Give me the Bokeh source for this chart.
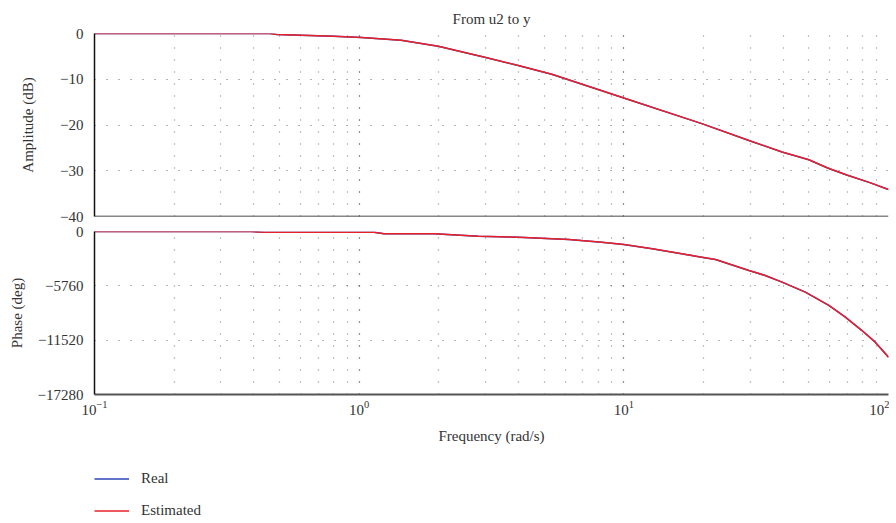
from bokeh.plotting import figure
from bokeh.models import Range1d, FixedTicker, Legend, LegendItem, Span
from bokeh.layouts import column
from bokeh.embed import file_html
from bokeh.resources import INLINE

# ---- data ----
freq_amp = [0.1, 0.46, 0.49, 0.8, 1.02, 1.44, 1.99, 2.98, 3.99, 5.34, 8.26, 10, 19.7, 29.7, 39.6, 50, 59.5, 70, 85, 100]
amp_real = [0, 0, -0.2, -0.6, -0.9, -1.5, -2.8, -5.2, -7.0, -8.9, -12.5, -14.1, -19.7, -23.4, -25.9, -27.6, -29.5, -31.0, -32.6, -34.1]
amp_est = [0, 0, -0.2, -0.6, -0.9, -1.5, -2.8, -5.2, -7.0, -8.9, -12.5, -14.1, -19.7, -23.4, -25.9, -27.6, -29.5, -31.0, -32.6, -34.1]

freq_ph = [0.1, 0.39, 0.44, 1.14, 1.24, 1.92, 2.82, 4.0, 6.2, 8.25, 10, 12.8, 19.7, 22.2, 29.7, 34.2, 39.6, 48.5, 59.5, 68.7, 79.4, 89.1, 100]
ph_real = [0, 0, -70, -70, -250, -250, -500, -600, -850, -1130, -1380, -1840, -2720, -2970, -4130, -4660, -5370, -6430, -7840, -9080, -10500, -11730, -13320]
ph_est = [0, 0, -70, -70, -250, -250, -500, -600, -850, -1130, -1380, -1840, -2720, -2970, -4130, -4660, -5370, -6430, -7840, -9080, -10500, -11730, -13320]

amp_ticks = [0, -10, -20, -30, -40]
ph_ticks = [0, -5760, -11520, -17280]
x_ticks = [0.1, 1, 10, 100]
x_minor = [m * 10 ** e for e in (-1, 0, 1) for m in range(2, 10)]

FONT = "Liberation Serif"
TXT = "#333333"
BLUE = "#2e45b8"
RED = "#e8202a"
W = 889
LB = 94


def style(p):
    p.outline_line_color = None
    p.background_fill_color = "white"
    p.xgrid.grid_line_color = "#222222"
    p.xgrid.grid_line_dash = "1 11"
    p.xgrid.grid_line_width = 1.2
    p.xgrid.minor_grid_line_color = "#888888"
    p.xgrid.minor_grid_line_dash = "1 11"
    p.xgrid.minor_grid_line_width = 1.2
    p.ygrid.grid_line_color = "#666666"
    p.ygrid.grid_line_dash = "1 11"
    p.ygrid.grid_line_width = 1.2
    for ax in (p.xaxis[0], p.yaxis[0]):
        ax.major_tick_line_color = None
        ax.minor_tick_line_color = None
        ax.major_label_text_font = FONT
        ax.major_label_text_font_size = "15px"
        ax.major_label_text_color = TXT
        ax.axis_label_text_font = FONT
        ax.axis_label_text_font_size = "15px"
        ax.axis_label_text_font_style = "normal"
        ax.axis_label_text_color = TXT
    p.yaxis.axis_line_color = "#111111"
    p.yaxis.axis_line_width = 1.5
    p.xaxis.axis_line_color = "#555555"
    p.xaxis.axis_line_width = 2
    p.xaxis.ticker = FixedTicker(ticks=x_ticks, minor_ticks=x_minor)


p1 = figure(width=W, height=223, x_axis_type="log", output_backend="svg", toolbar_location=None,
            x_range=Range1d(0.1, 100), y_range=Range1d(-40, 0),
            min_border_left=LB, min_border_right=1, min_border_top=33, min_border_bottom=7)
style(p1)
p1.title.text = "From u2 to y"
p1.title.align = "center"
p1.title.standoff = 14
p1.title.text_font = FONT
p1.title.text_font_size = "15px"
p1.title.text_font_style = "normal"
p1.title.text_color = TXT
p1.yaxis.ticker = FixedTicker(ticks=amp_ticks)
p1.yaxis.axis_label = "Amplitude (dB)"
p1.yaxis.axis_label_standoff = 21
p1.xaxis.visible = False
p1.add_layout(Span(location=-40, dimension="width", line_color="#111111", line_width=1.5))
p1.line(freq_amp, amp_real, line_color=BLUE, line_width=1.5)
p1.line(freq_amp, amp_est, line_color=RED, line_width=1.5)

p2 = figure(width=W, height=235, x_axis_type="log", output_backend="svg", toolbar_location=None,
            x_range=p1.x_range, y_range=Range1d(-17280, 0),
            min_border_left=LB, min_border_right=1, min_border_top=8, min_border_bottom=64)
style(p2)
p2.yaxis.ticker = FixedTicker(ticks=ph_ticks)
p2.yaxis.axis_label = "Phase (deg)"
p2.yaxis.axis_label_standoff = 10
p2.xaxis.axis_label = "Frequency (rad/s)"
p2.xaxis.major_label_standoff = 0
p2.xaxis.axis_label_standoff = 10
p2.line(freq_ph, ph_real, line_color=BLUE, line_width=1.5)
p2.line(freq_ph, ph_est, line_color=RED, line_width=1.5)

# legend strip (its lines reuse the data but lie outside the strip's range)
p3 = figure(width=W, height=65, x_axis_type="log", output_backend="svg", toolbar_location=None,
            x_range=Range1d(0.1, 100), y_range=Range1d(1e6, 2e6),
            min_border_left=LB, min_border_right=1, min_border_top=0, min_border_bottom=0)
p3.axis.visible = False
p3.grid.visible = False
p3.outline_line_color = None
r1 = p3.line(freq_ph, ph_real, line_color=BLUE, line_width=1.5)
r2 = p3.line(freq_ph, ph_est, line_color=RED, line_width=1.5)
legend = Legend(items=[LegendItem(label="Real", renderers=[r1]),
                       LegendItem(label="Estimated", renderers=[r2])],
                location=(0, 4), orientation="vertical",
                label_text_font=FONT, label_text_font_size="15px", label_text_color=TXT,
                glyph_width=35, glyph_height=17, label_height=17, spacing=15, label_standoff=12,
                padding=0, margin=0, border_line_color=None, background_fill_alpha=0)
p3.add_layout(legend, "center")

layout = column(p1, p2, p3)
open("out.html", "w").write(file_html(layout, INLINE))
